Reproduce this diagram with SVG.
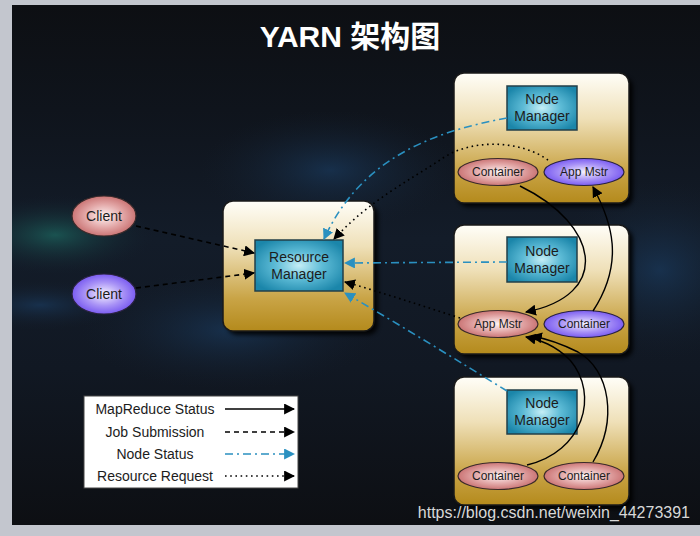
<svg xmlns="http://www.w3.org/2000/svg" width="700" height="536" viewBox="0 0 700 536">
<defs>
<style>
.outer{stroke:#1a1a1a;stroke-width:1.5;fill:url(#gold)}
.inner{stroke:#233f48;stroke-width:1.5;fill:url(#teal)}
.pink{stroke:#3a2a2a;stroke-width:1.2;fill:url(#pinkG)}
.purp{stroke:#2a2240;stroke-width:1.2;fill:url(#purpG)}
.lbl{font-family:"Liberation Sans",Arial,sans-serif;fill:#1c1c1c;text-anchor:middle}
.big{font-size:14px}
.sm{font-size:12px}
.leg{font-family:"Liberation Sans",Arial,sans-serif;font-size:14px;fill:#1c1c1c;text-anchor:middle}
.solid{stroke:#000;stroke-width:1.4;fill:none}
.dash{stroke:#000;stroke-width:1.6;fill:none;stroke-dasharray:5 4}
.dot{stroke:#000;stroke-width:1.6;fill:none;stroke-dasharray:1.6 3.6}
.dashdot{stroke:#2a90c0;stroke-width:1.6;fill:none;stroke-dasharray:8 4 2 4}
.lsolid{stroke:#000;stroke-width:1.4;fill:none}
.shadow{fill:#000;opacity:0.85;filter:url(#blur)}
</style>
<linearGradient id="gold" x1="0" y1="0" x2="0" y2="1">
<stop offset="0" stop-color="#fffef8"/>
<stop offset="0.35" stop-color="#efe0b8"/>
<stop offset="0.75" stop-color="#c9a446"/>
<stop offset="1" stop-color="#b48a1c"/>
</linearGradient>
<linearGradient id="bgv" x1="0" y1="0" x2="0" y2="1">
<stop offset="0" stop-color="#0d0f13"/>
<stop offset="0.2" stop-color="#0f141c"/>
<stop offset="0.45" stop-color="#131c29"/>
<stop offset="0.7" stop-color="#111823"/>
<stop offset="1" stop-color="#0d0f13"/>
</linearGradient>
<radialGradient id="teal" cx="0.5" cy="0.5" r="0.6">
<stop offset="0" stop-color="#c5eef6"/>
<stop offset="0.45" stop-color="#5dbbd6"/>
<stop offset="1" stop-color="#1b86aa"/>
</radialGradient>
<radialGradient id="pinkG" cx="0.5" cy="0.5" r="0.6">
<stop offset="0" stop-color="#fff4f4"/>
<stop offset="0.5" stop-color="#e2a6a6"/>
<stop offset="1" stop-color="#bf5d5d"/>
</radialGradient>
<radialGradient id="purpG" cx="0.5" cy="0.5" r="0.6">
<stop offset="0" stop-color="#f6f2ff"/>
<stop offset="0.5" stop-color="#a892f6"/>
<stop offset="1" stop-color="#6442ee"/>
</radialGradient>
<radialGradient id="neb1" cx="0.5" cy="0.5" r="0.5">
<stop offset="0" stop-color="#1d6a62" stop-opacity="0.7"/>
<stop offset="1" stop-color="#15202e" stop-opacity="0"/>
</radialGradient>
<radialGradient id="neb2" cx="0.5" cy="0.5" r="0.5">
<stop offset="0" stop-color="#1b3f66" stop-opacity="0.6"/>
<stop offset="1" stop-color="#15202e" stop-opacity="0"/>
</radialGradient>
<clipPath id="bgclip"><rect x="12" y="5" width="688" height="520"/></clipPath>
<filter id="blur" x="-10%" y="-10%" width="120%" height="120%"><feGaussianBlur stdDeviation="2"/></filter>
<marker id="ab" viewBox="0 0 10 10" refX="9" refY="5" markerWidth="11" markerHeight="11" markerUnits="userSpaceOnUse" orient="auto">
<path d="M0,0 L10,5 L0,10 Z" fill="#000"/>
</marker>
<marker id="au" viewBox="0 0 10 10" refX="9" refY="5" markerWidth="11" markerHeight="11" markerUnits="userSpaceOnUse" orient="auto">
<path d="M0,0 L10,5 L0,10 Z" fill="#2a90c0"/>
</marker>
</defs>

<rect x="0" y="0" width="700" height="536" fill="#c3c6ce"/>
<rect x="12" y="5" width="688" height="520" fill="url(#bgv)"/>
<g clip-path="url(#bgclip)">
<ellipse cx="55" cy="235" rx="100" ry="40" fill="url(#neb1)"/>
<ellipse cx="40" cy="305" rx="90" ry="25" fill="url(#neb2)"/>
<ellipse cx="660" cy="270" rx="110" ry="90" fill="url(#neb2)"/>
<ellipse cx="230" cy="330" rx="150" ry="60" fill="url(#neb2)"/>
<ellipse cx="330" cy="170" rx="130" ry="60" fill="url(#neb2)"/>
</g>

<text x="350" y="47" font-family="'Liberation Sans','Noto Sans CJK SC',sans-serif" font-size="30" font-weight="bold" fill="#ffffff" text-anchor="middle">YARN 架构图</text>

<g id="rm">
<rect class="shadow" x="227" y="205" width="151" height="130" rx="10"/>
<rect class="outer" x="223" y="201" width="151" height="130" rx="10"/>
<rect class="inner" x="255" y="240" width="88" height="51"/>
<text class="lbl big" x="299" y="262">Resource</text>
<text class="lbl big" x="299" y="279">Manager</text>
</g>

<g id="client1">
<ellipse class="pink" cx="104" cy="216" rx="32" ry="20"/>
<text class="lbl big" x="104" y="221">Client</text>
</g>
<g id="client2">
<ellipse class="purp" cx="104" cy="294" rx="32" ry="20"/>
<text class="lbl big" x="104" y="299">Client</text>
</g>

<g id="node1">
<rect class="shadow" x="458" y="77" width="175" height="130" rx="10"/>
<rect class="outer" x="454" y="73" width="175" height="130" rx="10"/>
<rect class="inner" x="507" y="86" width="70" height="44"/>
<text class="lbl big" x="542" y="104">Node</text>
<text class="lbl big" x="542" y="121">Manager</text>
<ellipse class="pink" cx="498" cy="172" rx="40" ry="13.5"/>
<text class="lbl sm" x="498" y="176">Container</text>
<ellipse class="purp" cx="584" cy="172" rx="40" ry="13.5"/>
<text class="lbl sm" x="584" y="176">App Mstr</text>
</g>

<g id="node2">
<rect class="shadow" x="458" y="229" width="175" height="129" rx="10"/>
<rect class="outer" x="454" y="225" width="175" height="129" rx="10"/>
<rect class="inner" x="507" y="237" width="70" height="45"/>
<text class="lbl big" x="542" y="256">Node</text>
<text class="lbl big" x="542" y="273">Manager</text>
<ellipse class="pink" cx="498" cy="324" rx="40" ry="13.5"/>
<text class="lbl sm" x="498" y="328">App Mstr</text>
<ellipse class="purp" cx="584" cy="324" rx="40" ry="13.5"/>
<text class="lbl sm" x="584" y="328">Container</text>
</g>

<g id="node3">
<rect class="shadow" x="458" y="381" width="175" height="128" rx="10"/>
<rect class="outer" x="454" y="377" width="175" height="128" rx="10"/>
<rect class="inner" x="507" y="390" width="70" height="44"/>
<text class="lbl big" x="542" y="408">Node</text>
<text class="lbl big" x="542" y="425">Manager</text>
<ellipse class="pink" cx="498" cy="476" rx="40" ry="13.5"/>
<text class="lbl sm" x="498" y="480">Container</text>
<ellipse class="pink" cx="584" cy="476" rx="40" ry="13.5"/>
<text class="lbl sm" x="584" y="480">Container</text>
</g>

<g id="connectors">
<path class="dash" d="M136,226 L254,253" marker-end="url(#ab)"/>
<path class="dash" d="M136,288 L254,273" marker-end="url(#ab)"/>
<path class="dashdot" d="M507,118 C430,132 360,160 324,239" marker-end="url(#au)"/>
<path class="dot" d="M548,160 C520,140 470,138 440,160 C410,180 370,200 334,239" marker-end="url(#ab)"/>
<path class="dashdot" d="M507,262 L345,263" marker-end="url(#au)"/>
<path class="dot" d="M460,318 C420,305 380,292 345,282" marker-end="url(#ab)"/>
<path class="dashdot" d="M507,391 C460,362 400,325 345,293" marker-end="url(#au)"/>
<path class="solid" d="M520,186 C600,225 612,295 526,312" marker-end="url(#ab)"/>
<path class="solid" d="M593,311 C625,262 612,222 593,187" marker-end="url(#ab)"/>
<path class="solid" d="M527,465 C583,452 600,395 570,360 C555,345 540,340 526,337" marker-end="url(#ab)"/>
<path class="solid" d="M593,462 C618,420 610,370 578,352 C560,343 548,339 532,336" marker-end="url(#ab)"/>
</g>

<g id="legend">
<rect x="84" y="396" width="214" height="92" fill="#ffffff" stroke="#444" stroke-width="1"/>
<text class="leg" x="155" y="414">MapReduce Status</text>
<text class="leg" x="155" y="437">Job Submission</text>
<text class="leg" x="155" y="459">Node Status</text>
<text class="leg" x="155" y="481">Resource Request</text>
<path class="lsolid" d="M225,409 L294,409" marker-end="url(#ab)"/>
<path class="dash" d="M225,432 L294,432" marker-end="url(#ab)"/>
<path class="dashdot" d="M225,454 L294,454" marker-end="url(#au)"/>
<path class="dot" d="M225,476 L294,476" marker-end="url(#ab)"/>
</g>

<text x="690" y="518" font-family="'Liberation Sans',Arial,sans-serif" font-size="16" fill="#d8d8d8" text-anchor="end">https://blog.csdn.net/weixin_44273391</text>
</svg>
